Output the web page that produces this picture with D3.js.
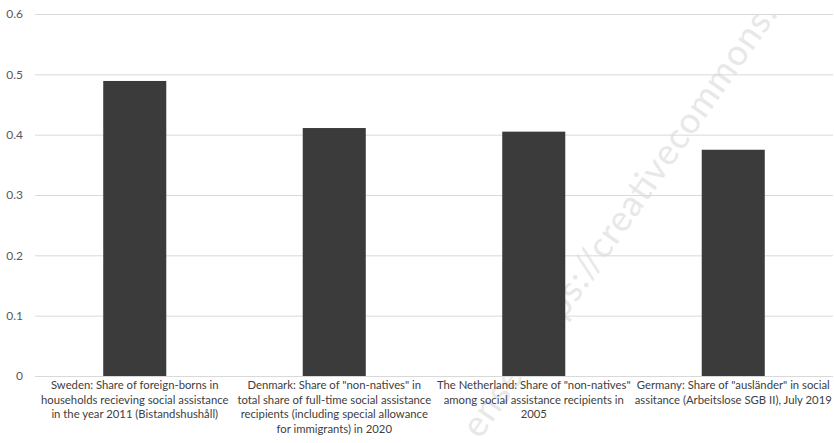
<!DOCTYPE html>
<html><head><meta charset="utf-8">
<script src="https://cdn.jsdelivr.net/npm/d3@7"></script>
<style>body{margin:0;background:#fff}svg{display:block}</style>
</head><body><svg id="c" width="834" height="443"></svg>
<script>
const categories = [
  ["Sweden: Share of foreign-borns in","households recieving social assistance","in the year 2011 (Bistandshushåll)"],
  ["Denmark: Share of \"non-natives\" in","total share of full-time social assistance","recipients (including special allowance","for immigrants) in 2020"],
  ["The Netherland: Share of \"non-natives\"","among social assistance recipients in","2005"],
  ["Germany: Share of \"ausländer\" in social","assitance (Arbeitslose SGB II), July 2019"]
];
const values = [0.489, 0.411, 0.405, 0.375];
const yTicks = [0, 0.1, 0.2, 0.3, 0.4, 0.5, 0.6];
const watermark = "ense (https://creativecommons.";

const svg = d3.select("#c");
const m = {l:35, r:1, t:14, b:67};
const W = 834, H = 443;
const x = d3.scaleBand().domain(d3.range(values.length)).range([m.l, W-m.r]).paddingInner(0.684).paddingOuter(0.342);
const y = d3.scaleLinear().domain([0,0.6]).range([H-m.b, m.t]);

// watermark
svg.append("text").attr("transform","translate(480,440) rotate(-55)")
  .attr("font-family","Lato, sans-serif").attr("font-size",36)
  .attr("textLength",520).attr("lengthAdjust","spacing")
  .attr("fill","#e8e8e8").text(watermark);

// grid
const ga = svg.append("g").attr("transform",`translate(${m.l},0)`)
  .call(d3.axisLeft(y).tickValues(yTicks).tickSize(-(W-m.l-m.r)).tickPadding(12).tickFormat(d=>d===0?"0":d3.format(".1f")(d)));
ga.select(".domain").remove();
ga.selectAll(".tick line").attr("stroke","#d9d9d9").attr("stroke-width",1);
ga.selectAll(".tick text").attr("fill","#595959").attr("font-family","Lato, sans-serif").attr("font-size",12);

svg.append("g").selectAll("rect").data(values).join("rect")
  .attr("x",(d,i)=>x(i)).attr("width",x.bandwidth())
  .attr("y",d=>y(d)).attr("height",d=>y(0)-y(d)).attr("fill","#3b3b3b");

const lab = svg.append("g").attr("font-family","Lato, sans-serif").attr("font-size",11.3).attr("fill","#404040").attr("text-anchor","middle");
categories.forEach((lines,i)=>{
  const t = lab.append("text").attr("x", x(i)+x.bandwidth()/2).attr("y", 389);
  lines.forEach((s,j)=>t.append("tspan").attr("x", x(i)+x.bandwidth()/2).attr("dy", j?14.5:0).text(s));
});
</script></body></html>
